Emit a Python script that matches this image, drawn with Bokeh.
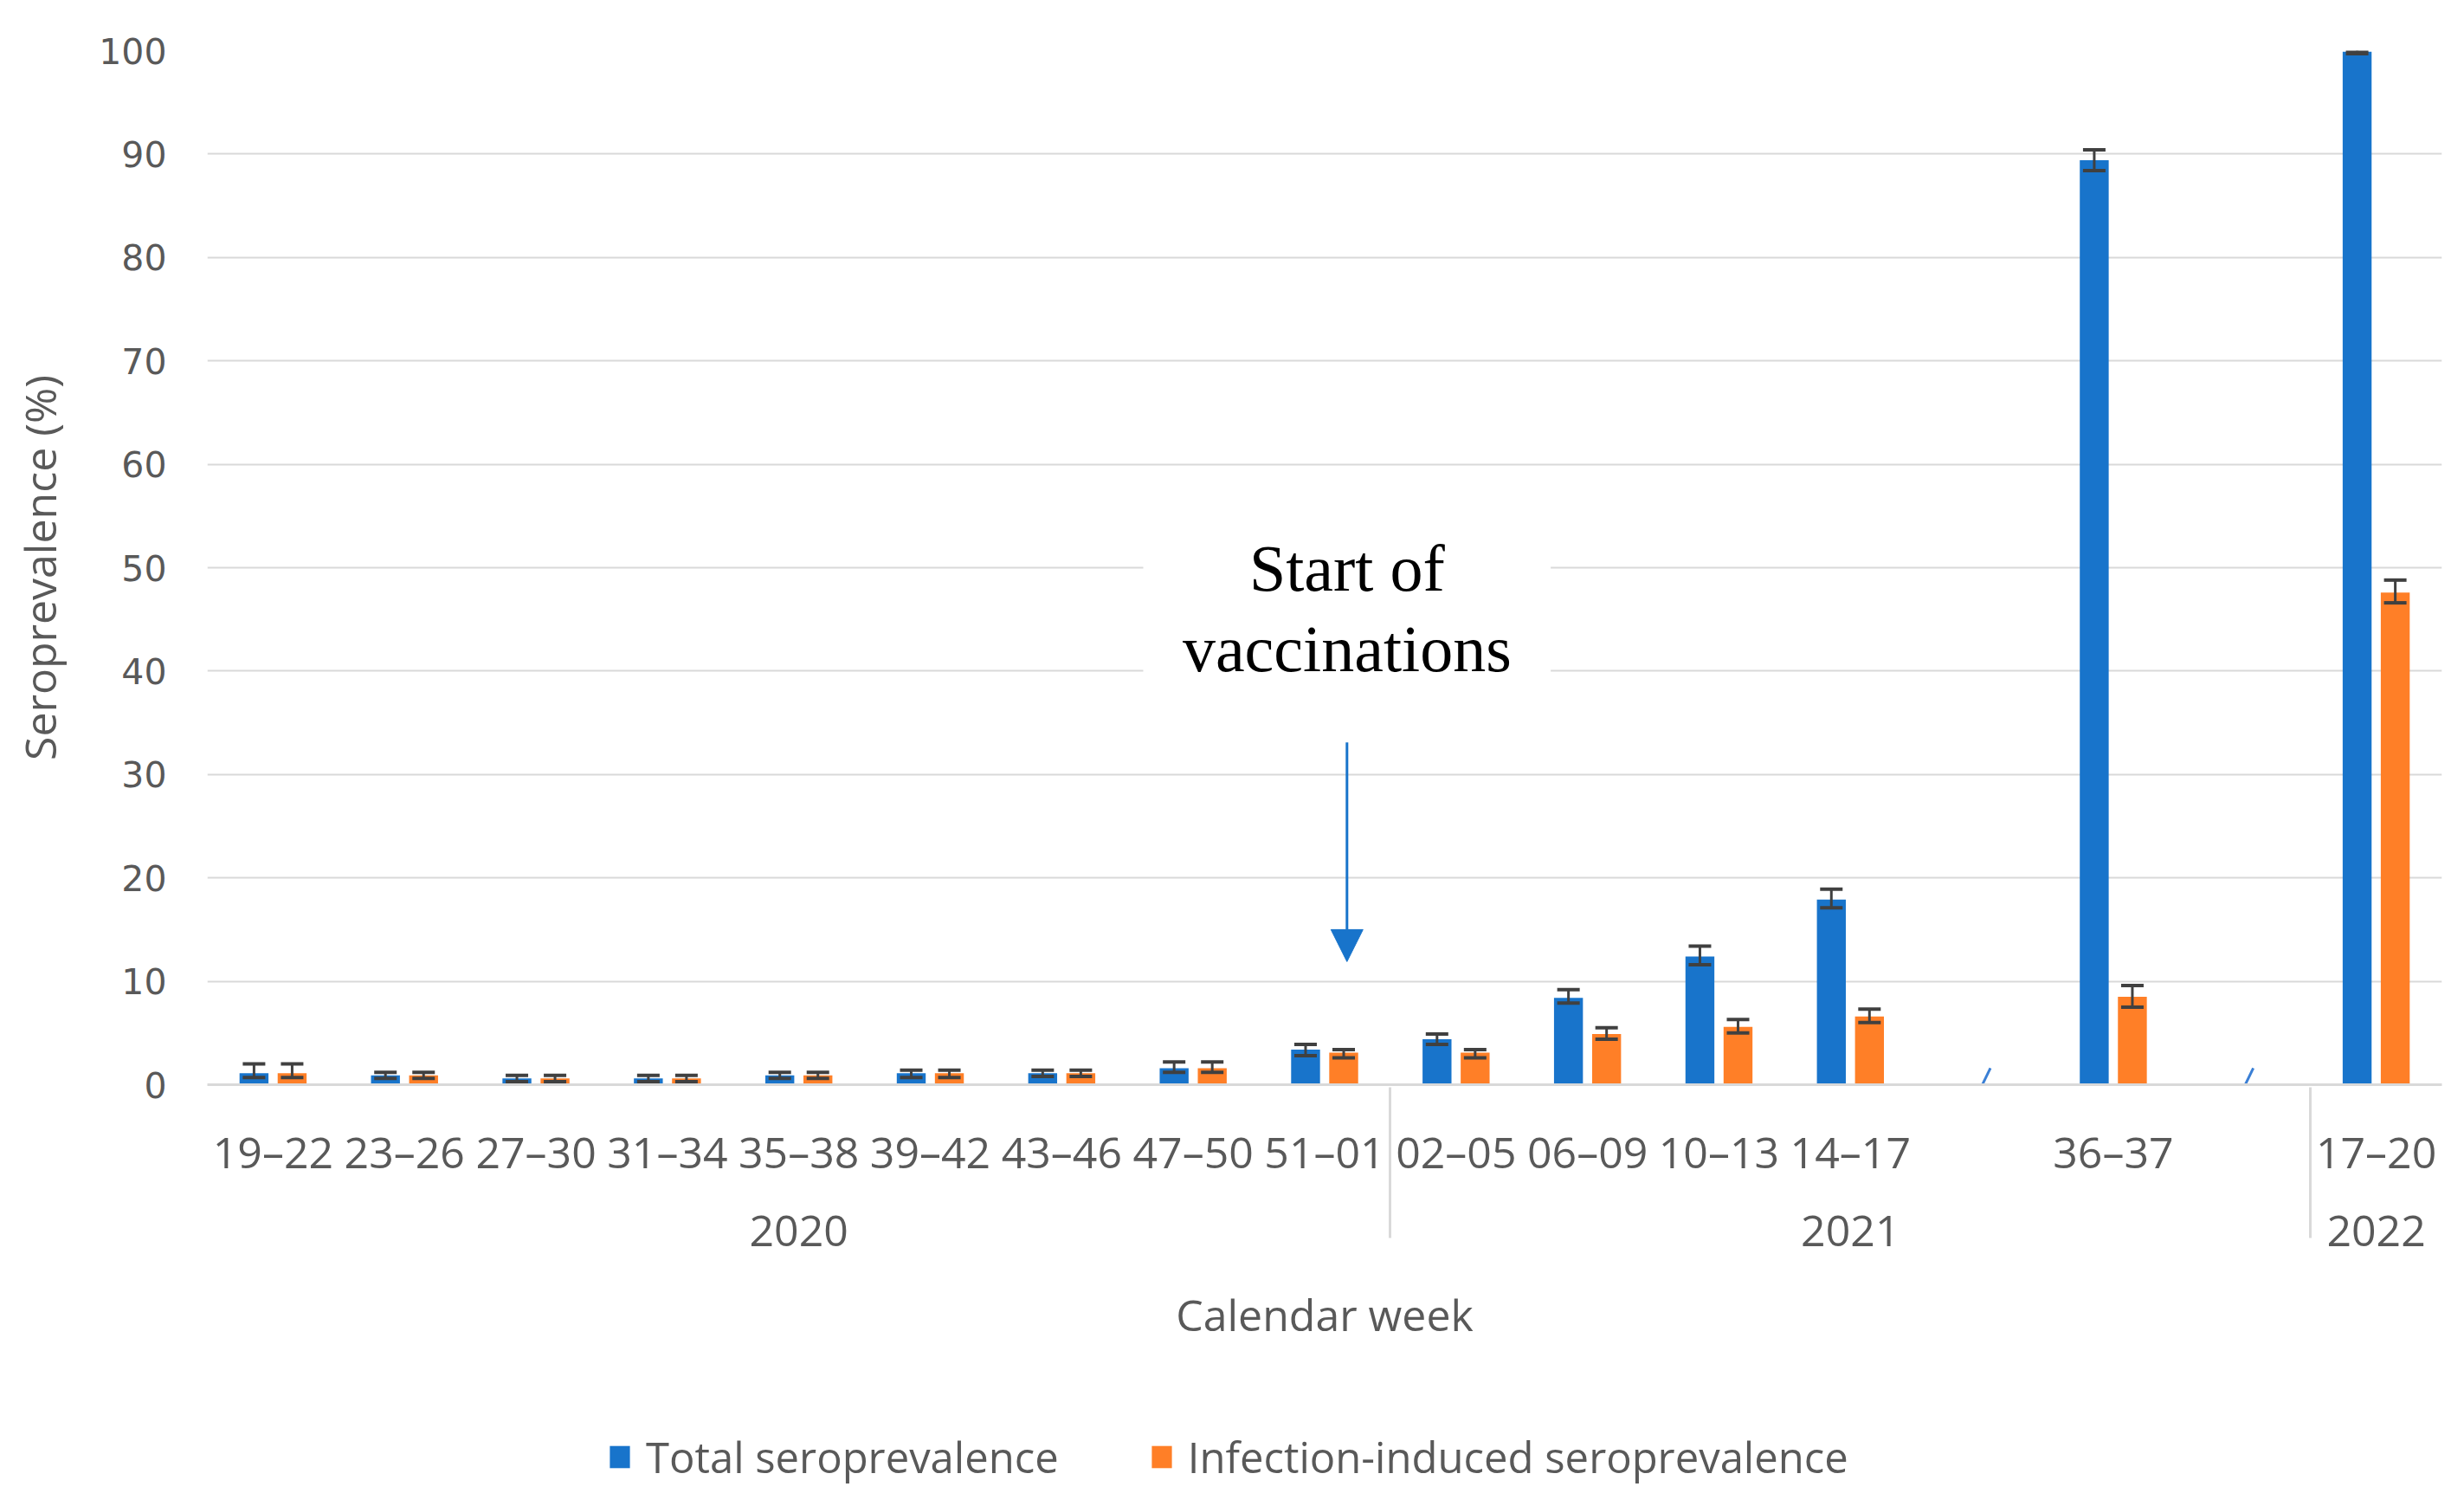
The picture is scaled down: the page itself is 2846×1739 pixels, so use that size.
from bokeh.plotting import figure
from bokeh.layouts import column
from bokeh.models import (FactorRange, ColumnDataSource, Whisker, TeeHead, FixedTicker,
                          Legend, LegendItem, BoxAnnotation, Label, Arrow, NormalHead, Range1d)
from bokeh.transform import dodge
from bokeh.embed import file_html
from bokeh.resources import INLINE

# ---------------- data ----------------
years = ["2020"] * 9 + ["2021"] * 5 + ["2022"]
weeks = ["19–22", "23–26", "27–30", "31–34", "35–38", "39–42", "43–46", "47–50", "51–01",
         "02–05", "06–09", "10–13", "14–17", "36–37", "17–20"]
total = [1.1, 0.9, 0.6, 0.6, 0.9, 1.1, 1.1, 1.6, 3.4, 4.4, 8.4, 12.4, 17.9, 89.4, 99.9]
total_lo = [0.7, 0.6, 0.3, 0.3, 0.6, 0.7, 0.8, 1.2, 2.8, 3.9, 7.9, 11.6, 17.1, 88.4, 99.7]
total_hi = [2.0, 1.2, 0.9, 0.9, 1.2, 1.4, 1.4, 2.2, 3.9, 4.9, 9.2, 13.4, 18.9, 90.4, 100.0]
infect = [1.1, 0.9, 0.6, 0.6, 0.9, 1.1, 1.1, 1.6, 3.1, 3.1, 4.9, 5.6, 6.6, 8.5, 47.6]
infect_lo = [0.7, 0.6, 0.3, 0.3, 0.6, 0.7, 0.8, 1.2, 2.6, 2.6, 4.4, 5.0, 6.0, 7.5, 46.6]
infect_hi = [2.0, 1.2, 0.9, 0.9, 1.2, 1.4, 1.4, 2.2, 3.4, 3.4, 5.5, 6.3, 7.3, 9.6, 48.8]
series_names = ["Total seroprevalence", "Infection-induced seroprevalence"]
# empty slots marking the broken time axis (inserted around 36–37 in 2021)
break_slots = [("2021", " "), ("2021", "  ")]
break_after = ["14–17", "36–37"]
vacc_start = ("2020", "51–01")
y_ticks = [0, 10, 20, 30, 40, 50, 60, 70, 80, 90, 100]

BLUE = "#1874CB"
ORANGE = "#FF7F27"
TXT = "#595959"
GRID = "#D9D9D9"
ERR = "#404040"

# ---------------- factors ----------------
factors = []
for y, w in zip(years, weeks):
    factors.append((y, w))
    if w in break_after:
        factors.append(break_slots[break_after.index(w)])

src = ColumnDataSource(dict(x=list(zip(years, weeks)), total=total, t_lo=total_lo, t_hi=total_hi,
                            infect=infect, i_lo=infect_lo, i_hi=infect_hi))
bsrc = ColumnDataSource(dict(x=break_slots))

x_range = FactorRange(factors=factors, factor_padding=0, group_padding=0, subgroup_padding=0,
                      range_padding=0)

p = figure(x_range=x_range, y_range=Range1d(0, 100), frame_width=2581, frame_height=1194,
           min_border_left=239, min_border_right=10, min_border_top=58, min_border_bottom=310,
           output_backend="svg", toolbar_location=None, background_fill_color="white",
           border_fill_color="white")
p.outline_line_color = None

OFF = 0.145
BW = 0.22
r1 = p.vbar(x=dodge("x", -OFF, range=x_range), top="total", width=BW, source=src,
            fill_color=BLUE, line_color=None)
r2 = p.vbar(x=dodge("x", OFF, range=x_range), top="infect", width=BW, source=src,
            fill_color=ORANGE, line_color=None)

for base_off, lo, hi in [(-OFF, "t_lo", "t_hi"), (OFF, "i_lo", "i_hi")]:
    w = Whisker(source=src, base=dodge("x", base_off, range=x_range), lower=lo, upper=hi,
                line_color=ERR, line_width=3, level="overlay",
                upper_head=TeeHead(size=26, line_color=ERR, line_width=4),
                lower_head=TeeHead(size=26, line_color=ERR, line_width=4))
    p.add_layout(w)

# axis-break slashes
p.segment(x0=dodge("x", -0.065, range=x_range), y0=-1.8, x1=dodge("x", 0.065, range=x_range), y1=1.6,
          source=bsrc, line_color="#3A7FD5", line_width=3)

# annotation: start of vaccinations
xv = factors.index(vacc_start) + 0.5 + 0.17
p.add_layout(BoxAnnotation(left=xv - 1.55, right=xv + 1.55, bottom=36, top=57,
                           fill_color="white", fill_alpha=1, line_color=None))
for txt, yy in [("Start of", 50.0), ("vaccinations", 42.2)]:
    p.add_layout(Label(x=xv, y=yy, text=txt, text_align="center", text_baseline="alphabetic",
                       text_font="Liberation Serif", text_font_size="76px", text_color="black"))
p.add_layout(Arrow(x_start=xv, y_start=33.1, x_end=xv, y_end=11.9, line_color=BLUE, line_width=3,
                   end=NormalHead(size=37, fill_color=BLUE, line_color=BLUE)))

# ---------------- axes ----------------
p.xgrid.grid_line_color = None
p.ygrid.grid_line_color = GRID
p.ygrid.grid_line_width = 2

ya = p.yaxis[0]
ya.ticker = FixedTicker(ticks=y_ticks)
ya.axis_line_color = None
ya.major_tick_line_color = None
ya.minor_tick_line_color = None
ya.major_label_text_font = "DejaVu Sans"
ya.major_label_text_font_size = "41px"
ya.major_label_text_color = TXT
ya.major_label_standoff = 41
ya.axis_label = "Seroprevalence (%)"
ya.axis_label_text_font = "Open Sans"
ya.axis_label_text_font_size = "50px"
ya.axis_label_text_font_style = "normal"
ya.axis_label_text_color = TXT
ya.axis_label_standoff = 31

xa = p.xaxis[0]
xa.axis_line_color = GRID
xa.axis_line_width = 3
xa.major_tick_line_color = None
xa.minor_tick_line_color = None
xa.major_label_text_font = "Open Sans"
xa.major_label_text_font_size = "50px"
xa.major_label_text_color = TXT
xa.major_label_standoff = 37
xa.group_text_font = "Open Sans"
xa.group_text_font_size = "50px"
xa.group_text_color = TXT
xa.group_text_font_style = "normal"
xa.separator_line_color = GRID
xa.separator_line_width = 3
xa.axis_label = "Calendar week"
xa.axis_label_text_font = "Open Sans"
xa.axis_label_text_font_size = "50px"
xa.axis_label_text_font_style = "normal"
xa.axis_label_text_color = TXT
xa.axis_label_standoff = 42

# ---------------- legend strip ----------------
p2 = figure(width=2830, height=160, x_range=Range1d(0, 1), y_range=Range1d(0, 1),
            x_axis_type=None, y_axis_type=None, min_border=0,
            output_backend="svg", toolbar_location=None)
p2.outline_line_color = None
p2.grid.visible = False
# legend proxies (zero-height, outside the visible range)
proxy = ColumnDataSource(dict(x=[-1.0], top=[0.0]))
l1 = p2.vbar(x="x", top="top", width=0.1, source=proxy, fill_color=BLUE, line_color=None)
l2 = p2.vbar(x="x", top="top", width=0.1, source=proxy, fill_color=ORANGE, line_color=None)

legend = Legend(items=[LegendItem(label=series_names[0], renderers=[l1]),
                       LegendItem(label=series_names[1], renderers=[l2])],
                orientation="horizontal", location=(462, 7),
                label_text_font="Open Sans", label_text_font_size="49px", label_text_color=TXT,
                glyph_width=29, glyph_height=32, spacing=104, label_standoff=16,
                padding=0, margin=0, border_line_color=None, background_fill_alpha=0)
p2.add_layout(legend, "center")

layout = column(p, p2, spacing=0)
open("out.html", "w").write(file_html(layout, INLINE))
